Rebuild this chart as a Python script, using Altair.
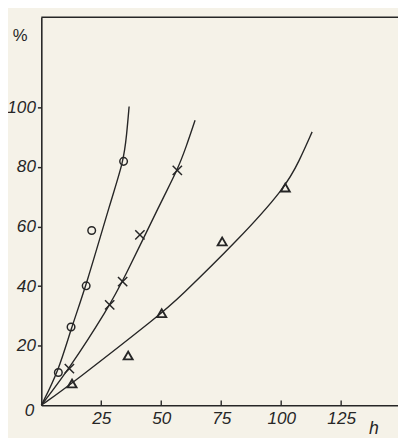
import altair as alt
import pandas as pd

# --- data ---
circle_x = [7.1, 12.4, 18.7, 21.0, 34.3]
circle_y = [11.0, 26.3, 40.1, 58.7, 81.9]
cross_x = [11.7, 28.5, 33.9, 41.1, 56.7]
cross_y = [12.3, 33.7, 41.5, 57.2, 78.9]
tri_x = [12.8, 36.2, 50.2, 75.4, 101.7]
tri_y = [7.3, 16.7, 30.9, 55.0, 73.1]

circle_curve_x = [0, 7.1, 12.4, 18.7, 29.0, 34.3, 35.6, 36.6]
circle_curve_y = [0, 11.3, 25.8, 40.1, 68.8, 81.9, 91.0, 100.3]
cross_curve_x = [0, 11.7, 27.8, 33.9, 50.2, 56.7, 60.5, 64.1]
cross_curve_y = [0, 12.3, 32.6, 41.5, 68.8, 78.9, 87.0, 95.7]
tri_curve_x = [0, 12.8, 50.2, 56.4, 82.2, 101.7, 107.5, 112.9]
tri_curve_y = [0, 7.3, 30.9, 35.3, 55.6, 73.1, 82.0, 91.8]

x_ticks = [25, 50, 75, 100, 125]
y_ticks = [20, 40, 60, 80, 100]
x_max = 148.7
y_max = 130.3

INK = "#262626"
FONT = "Liberation Sans"

curves = pd.concat([
    pd.DataFrame({"x": circle_curve_x, "y": circle_curve_y, "s": "circle"}),
    pd.DataFrame({"x": cross_curve_x, "y": cross_curve_y, "s": "cross"}),
    pd.DataFrame({"x": tri_curve_x, "y": tri_curve_y, "s": "tri"}),
])
circ = pd.DataFrame({"x": circle_x, "y": circle_y})
crs = pd.DataFrame({"x": cross_x, "y": cross_y})
tri = pd.DataFrame({"x": tri_x, "y": tri_y})
ticks = pd.DataFrame({"x": x_ticks, "y": [0] * len(x_ticks), "y2": [1.6] * len(x_ticks)})
frame = pd.DataFrame({"x": [0], "x2": [x_max], "y": [y_max]})
origin = pd.DataFrame({"x": [0], "y": [0], "t": ["0"]})

xs = alt.Scale(domain=[0, x_max], nice=False, zero=False)
ys = alt.Scale(domain=[0, y_max], nice=False, zero=False)

xaxis = alt.Axis(values=x_ticks, ticks=False, grid=False, labelFontSize=17.5,
                 labelFontStyle="italic", labelFont=FONT, labelColor=INK,
                 domainColor=INK, domainWidth=1.6, labelPadding=5,
                 title="h", titleX=339, titleY=29, titleFontSize=18,
                 titleFontStyle="italic", titleFontWeight="normal",
                 titleFont=FONT, titleColor=INK, titleBaseline="alphabetic",
                 titleAlign="center")
yaxis = alt.Axis(values=y_ticks, tickSize=4, tickColor=INK, tickWidth=1.5,
                 grid=False, labelFontSize=17.5, labelFontStyle="italic",
                 labelFont=FONT, labelColor=INK, domainColor=INK, domainWidth=1.6,
                 labelPadding=2, title="%", titleAngle=0, titleX=-22, titleY=19,
                 titleAlign="center", titleBaseline="middle", titleFontSize=17,
                 titleFontWeight="normal", titleFont=FONT, titleColor=INK)

X = alt.X("x:Q", scale=xs, axis=xaxis)
Y = alt.Y("y:Q", scale=ys, axis=yaxis)

lines = alt.Chart(curves).mark_line(color=INK, strokeWidth=1.4, interpolate="basis").encode(
    x=X, y=Y, detail="s:N", order="x:Q")
circles = alt.Chart(circ).mark_point(shape="circle", filled=False, color=INK,
                                      size=60, strokeWidth=1.5, opacity=1).encode(x=X, y=Y)
crosses = alt.Chart(crs).mark_point(shape="M -1 -1 L 1 1 M -1 1 L 1 -1", filled=False,
                                     color=INK, size=90, strokeWidth=1.5, opacity=1).encode(x=X, y=Y)
tris = alt.Chart(tri).mark_point(shape="triangle-up", filled=False, color=INK,
                                  size=85, strokeWidth=1.9, opacity=1).encode(x=X, y=Y)
tick_rules = alt.Chart(ticks).mark_rule(color=INK, strokeWidth=1.4).encode(
    x=X, y=Y, y2="y2:Q")
top_line = alt.Chart(frame).mark_rule(color=INK, strokeWidth=1.6).encode(
    x=X, x2="x2:Q", y=Y)
zero_lbl = alt.Chart(origin).mark_text(font=FONT, fontSize=17.5, fontStyle="italic",
                                       color=INK, dx=-12, dy=6).encode(x=X, y=Y, text="t:N")

chart = alt.layer(top_line, tick_rules, lines, circles, crosses, tris, zero_lbl).properties(
    width=364, height=396,
    autosize=alt.AutoSizeParams(type="none"),
    padding={"left": 34, "top": 5, "right": 0, "bottom": 29},
    background="#f5f2e8",
).configure_view(strokeWidth=0)

chart.save("out.html", embed_options={"renderer": "svg", "actions": False})
